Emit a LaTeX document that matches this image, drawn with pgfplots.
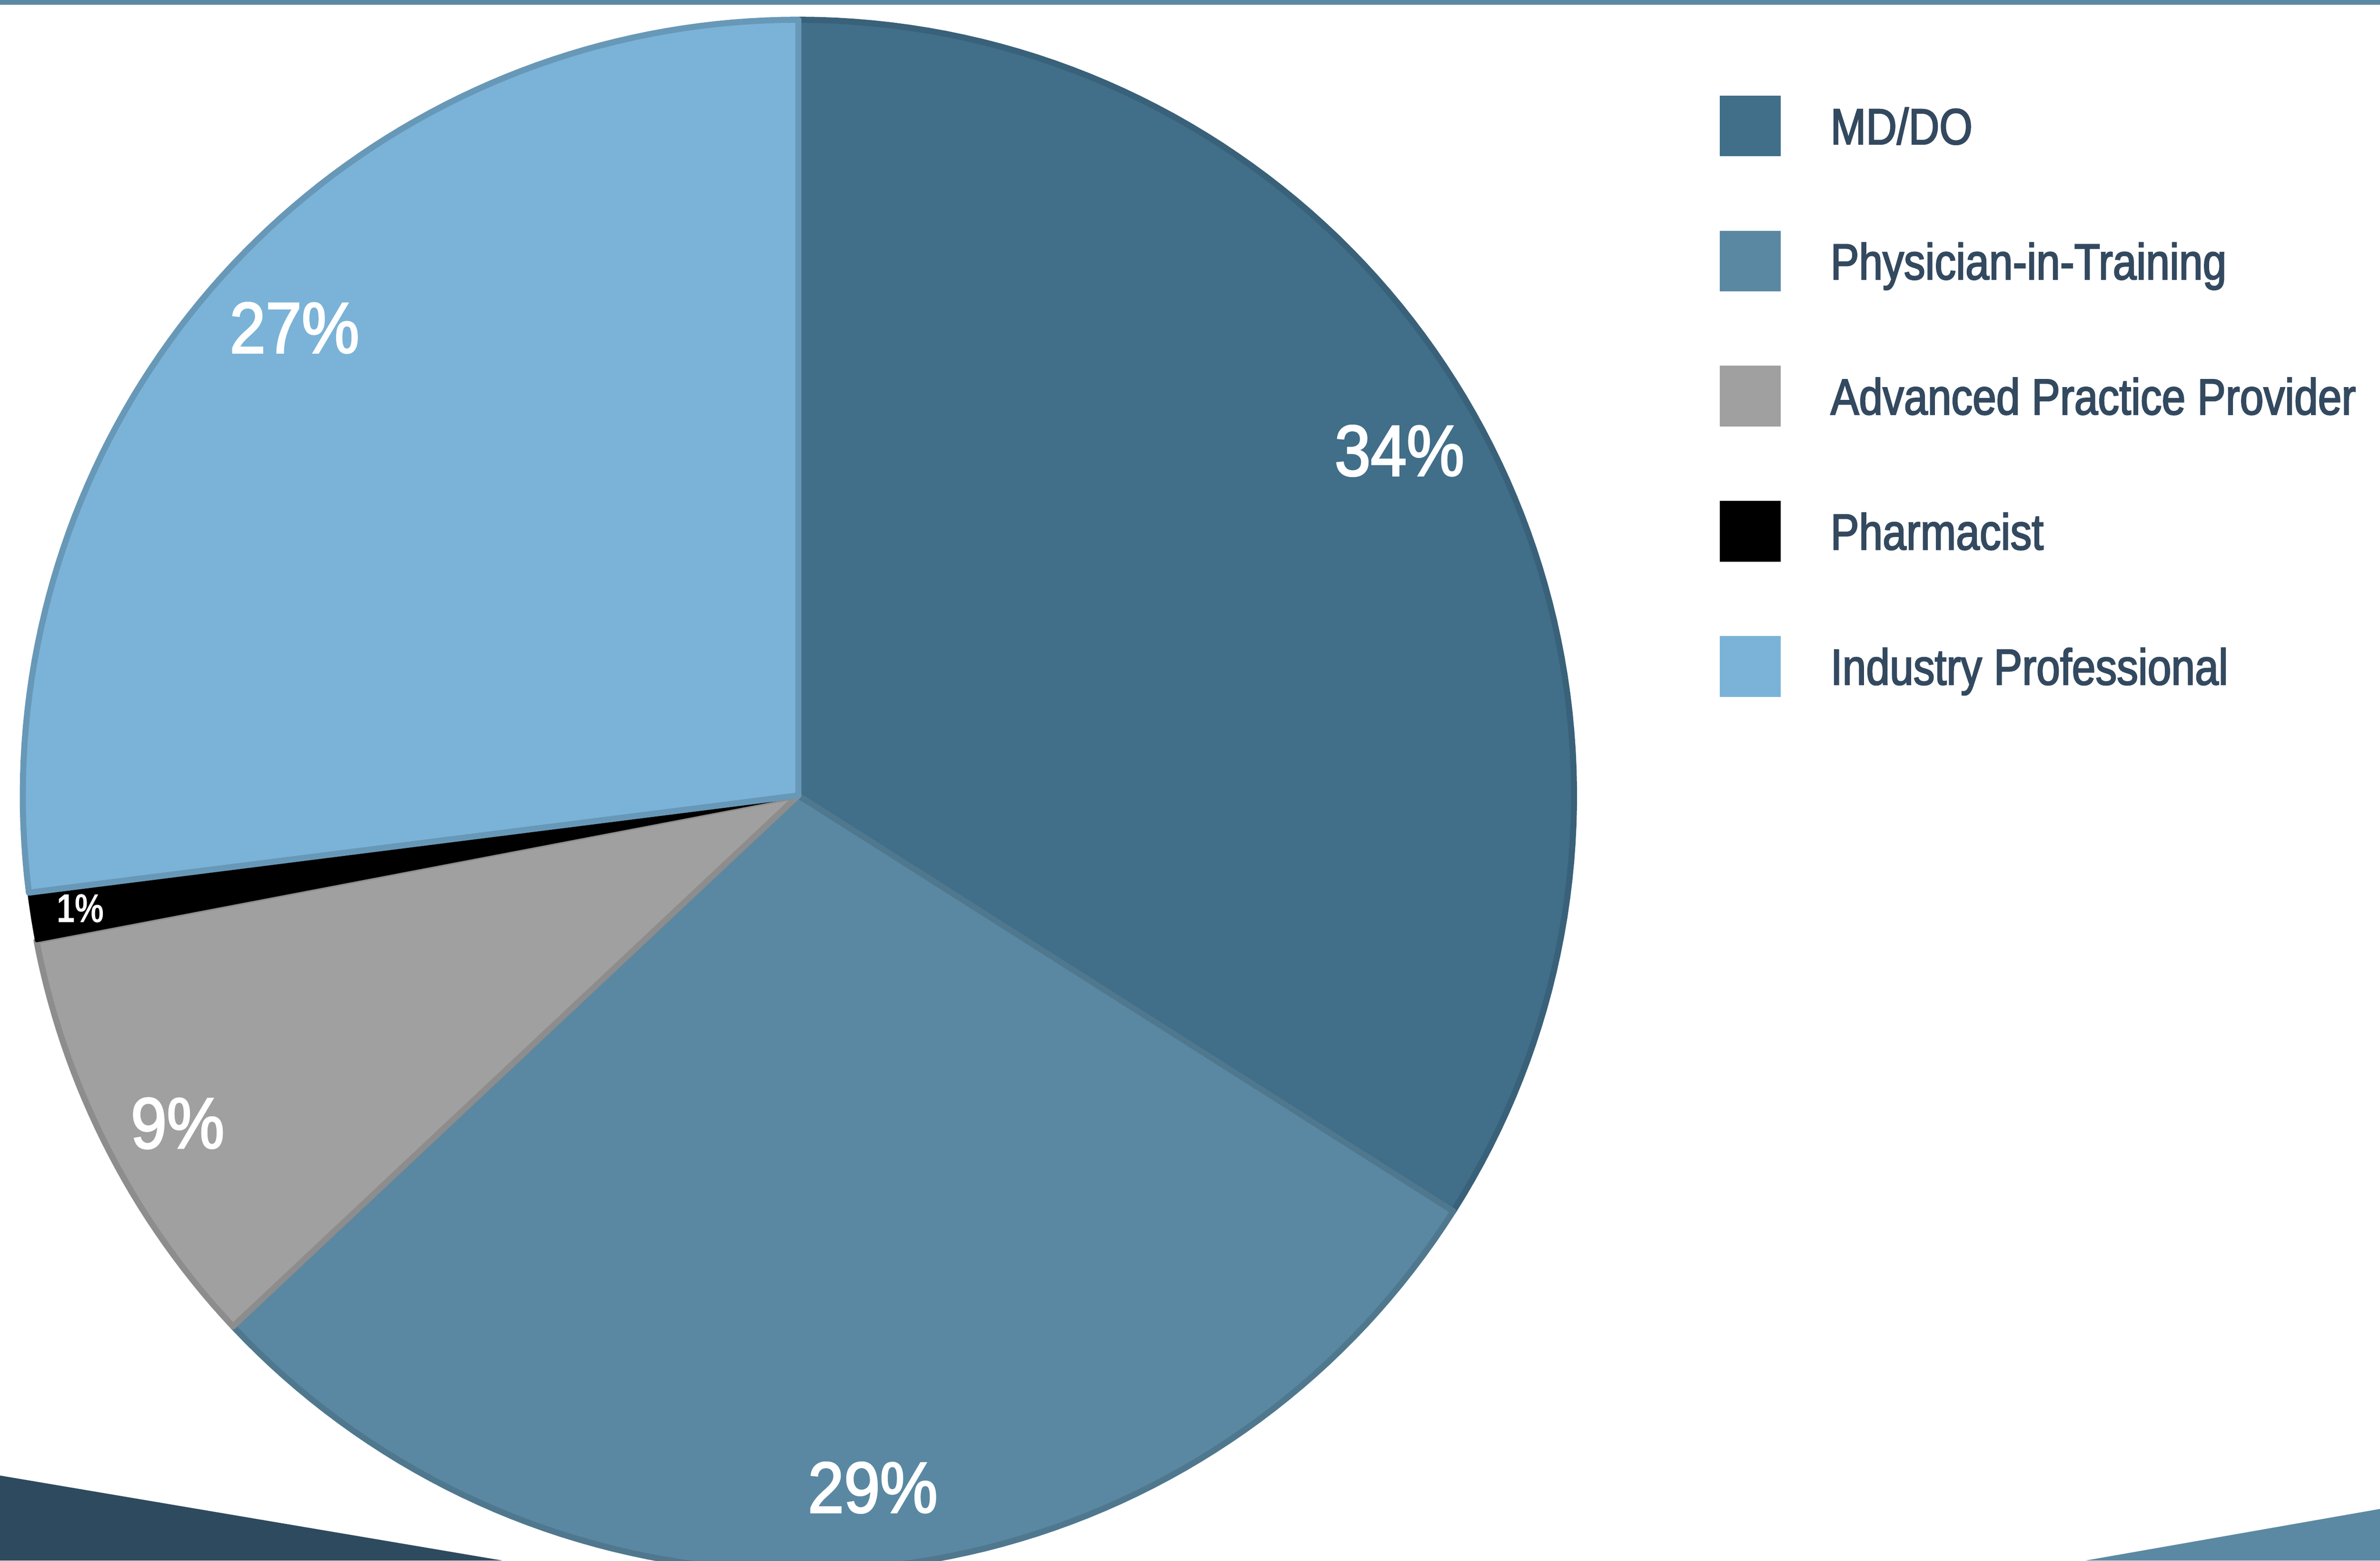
\documentclass[border=0pt]{standalone}
\usepackage{fontspec}
\setmainfont{Liberation Sans}
\newfontfamily\legfont{Liberation Sans}[FakeStretch=0.84]
\newfontfamily\pctfont{Liberation Sans}[FakeStretch=0.9]
\newfontfamily\onefont{Liberation Sans}[FakeStretch=0.81]
\newcommand\heavy[2]{\special{pdf:code 2 Tr #1 w}#2\special{pdf:code 0 Tr}}
\usepackage{pgfplots}
\pgfplotsset{compat=1.18}
\definecolor{cMD}{HTML}{416E89}
\definecolor{cPT}{HTML}{5A88A2}
\definecolor{cAP}{HTML}{A0A0A0}
\definecolor{cPH}{HTML}{000000}
\definecolor{cIN}{HTML}{7AB3D7}
\definecolor{legtext}{HTML}{33495F}
\definecolor{cDark}{HTML}{2E4A5E}
\definecolor{cBand}{HTML}{5B89A3}
% shares (percent)
\def\pMD{34}\def\pPT{29}\def\pAP{9}\def\pPH{1}\def\pIN{27}
\def\cx{526}\def\cy{504}\def\rr{511}
\pgfmathsetmacro\aA{90}%
\pgfmathsetmacro\aB{\aA-3.6*\pMD}%
\pgfmathsetmacro\aC{\aB-3.6*\pPT}%
\pgfmathsetmacro\aD{\aC-3.6*\pAP}%
\pgfmathsetmacro\aE{\aD-3.6*\pPH}%
\pgfmathsetmacro\aF{\aE-3.6*\pIN}%
\begin{document}%
\begin{tikzpicture}
\useasboundingbox (0,0) rectangle (156.8mm,102.8mm);
\begin{axis}[at={(0,0)}, anchor=south west, scale only axis,
  width=156.8mm, height=102.8mm,
  xmin=0, xmax=1568, ymin=0, ymax=1028,
  hide axis, clip=true,
  legend style={at={(0.7226,0.9387)}, anchor=north west, draw=none, fill=none,
    inner sep=0pt, outer sep=0pt, row sep=4.9mm, column sep=3.3mm,
    font=\legfont\fontsize{9.5pt}{10pt}\selectfont, text=legtext,
    nodes={inner sep=0pt, text height=3.1mm, text depth=0.7mm}},
  legend cell align=left,
  legend image code/.code={\fill[#1,draw=none] (0mm,-2mm) rectangle (4mm,2mm);},
]
% decorations
\addplot[fill=cBand, draw=none, forget plot] coordinates {(0,1025) (1568,1025) (1568,1028) (0,1028)} -- cycle;
\addplot[fill=cDark, draw=none, forget plot] coordinates {(0,56) (331,0) (0,0)} -- cycle;
\addplot[fill=cBand, draw=none, forget plot] coordinates {(1374,0) (1568,34) (1568,0)} -- cycle;
% pie slices
\addplot[fill=cMD, draw=cMD!88!black, line width=0.4mm, line join=round, domain=\aB:\aA, samples=90]
  ({\cx+\rr*cos(x)},{\cy+\rr*sin(x)}) -- (axis cs:\cx,\cy) -- cycle;
\addlegendentry{\heavy{0.22}{MD/DO}}
\addplot[fill=cPT, draw=cPT!88!black, line width=0.4mm, line join=round, domain=\aC:\aB, samples=80]
  ({\cx+\rr*cos(x)},{\cy+\rr*sin(x)}) -- (axis cs:\cx,\cy) -- cycle;
\addlegendentry{\heavy{0.22}{Physician-in-Training}}
\addplot[fill=cAP, draw=cAP!88!black, line width=0.4mm, line join=round, domain=\aD:\aC, samples=30]
  ({\cx+\rr*cos(x)},{\cy+\rr*sin(x)}) -- (axis cs:\cx,\cy) -- cycle;
\addlegendentry{\heavy{0.22}{Advanced Practice Provider}}
\addplot[fill=cPH, draw=cPH, line width=0.2mm, line join=round, domain=\aE:\aD, samples=8]
  ({\cx+\rr*cos(x)},{\cy+\rr*sin(x)}) -- (axis cs:\cx,\cy) -- cycle;
\addlegendentry{\heavy{0.22}{Pharmacist}}
\addplot[fill=cIN, draw=cIN!85!black, line width=0.4mm, line join=round, domain=\aF:\aE, samples=80]
  ({\cx+\rr*cos(x)},{\cy+\rr*sin(x)}) -- (axis cs:\cx,\cy) -- cycle;
\addlegendentry{\heavy{0.22}{Industry Professional}}
% labels
\node[text=white, inner sep=0pt, font=\pctfont\fontsize{13.5pt}{14pt}\selectfont] at (axis cs:922,731) {\heavy{0.3}{34\%}};
\node[text=white, inner sep=0pt, font=\pctfont\fontsize{13.5pt}{14pt}\selectfont] at (axis cs:575,48) {\heavy{0.3}{29\%}};
\node[text=white, inner sep=0pt, font=\pctfont\fontsize{13.5pt}{14pt}\selectfont] at (axis cs:117,288) {\heavy{0.3}{9\%}};
\node[text=white, inner sep=0pt, font=\onefont\bfseries\fontsize{7.55pt}{8pt}\selectfont] at (axis cs:53,429.5) {1\%};
\node[text=white, inner sep=0pt, font=\pctfont\fontsize{13.5pt}{14pt}\selectfont] at (axis cs:194,812) {\heavy{0.3}{27\%}};
\end{axis}
\end{tikzpicture}%
\end{document}
